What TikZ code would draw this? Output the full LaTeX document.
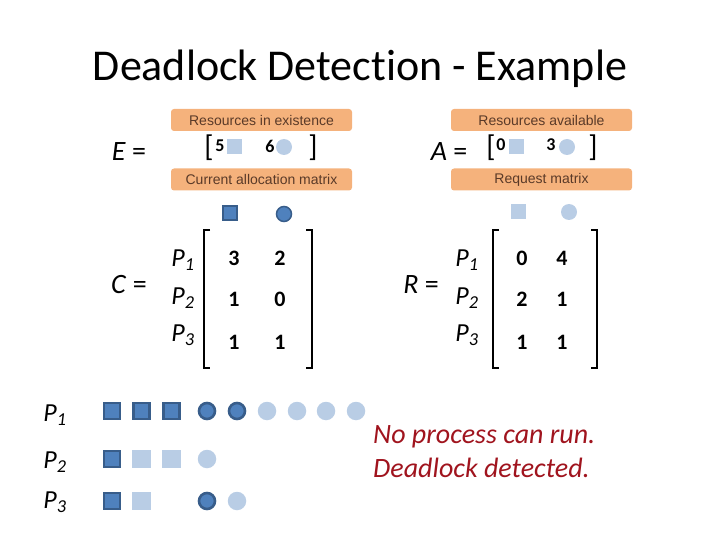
\documentclass[tikz,border=0pt]{standalone}
\usepackage{fontspec}
\setmainfont{Carlito}[Ligatures={NoCommon}]
\newfontfamily\lab{Liberation Sans}
\begin{document}
\begin{tikzpicture}[x=1pt,y=-1pt]
\definecolor{orng}{HTML}{F5B27C}
\definecolor{labtxt}{HTML}{5A3A28}
\definecolor{dkfill}{HTML}{4F81BD}
\definecolor{dkline}{HTML}{385D8A}
\definecolor{ltfill}{HTML}{B9CDE5}
\definecolor{redtxt}{HTML}{A0141E}
\tikzset{
  lbox/.style={fill=orng, rounded corners=3pt, minimum width=181pt, minimum height=22pt, inner sep=0pt, font=\lab\fontsize{14}{16}\selectfont, text=labtxt},
  dsq/.style={draw=dkline, line width=2.6pt, fill=dkfill, minimum size=16pt, inner sep=0pt},
  lsq/.style={fill=ltfill, minimum size=18.5pt, inner sep=0pt},
  dci/.style={circle, draw=dkline, line width=2.6pt, fill=dkfill, minimum size=16pt, inner sep=0pt},
  lci/.style={circle, fill=ltfill, minimum size=18.5pt, inner sep=0pt},
  ssq/.style={fill=ltfill, minimum size=15pt, inner sep=0pt},
  sci/.style={circle, fill=ltfill, minimum size=16pt, inner sep=0pt},
  sdsq/.style={draw=dkline, line width=1.5pt, fill=dkfill, minimum size=14pt, inner sep=0pt},
  sdci/.style={circle, draw=dkline, line width=1.5pt, fill=dkfill, minimum size=15pt, inner sep=0pt},
  eq/.style={font=\fontsize{28}{30}\selectfont, inner sep=0pt},
  plab/.style={font=\fontsize{26}{28}\selectfont, inner sep=0pt},
  ent/.style={font=\bfseries\fontsize{22}{24}\selectfont, inner sep=0pt},
  vent/.style={font=\bfseries\fontsize{18}{20}\selectfont, inner sep=0pt},
  brk/.style={font=\fontsize{30}{32}\selectfont, inner sep=0pt},
  mbr/.style={line width=2pt},
  red/.style={font=\itshape\fontsize{28}{30}\selectfont, text=redtxt, anchor=west, inner sep=0pt}
}
\useasboundingbox (0,0) rectangle (720,540);
\node[font=\fontsize{44}{48}\selectfont] (title) at (360,69) {Deadlock Detection - Example};

% labels
\node[lbox] (lre) at (261.5,120) {Resources in existence};
\node[lbox] (lca) at (261.5,179.5) {Current allocation matrix};
\node[lbox] (lra) at (541.5,120) {Resources available};
\node[lbox] (lrm) at (541.5,179.5) {Request matrix};

% E vector
\node[eq] (Eeq) at (129,152) {\textit{E} =};
\node[brk] (Eb1) at (209,148) {[};
\node[vent] (E5) at (220,146) {5};
\node[ssq] (Esq) at (234,147) {};
\node[vent] (E6) at (270,146) {6};
\node[sci] (Eci) at (284,147) {};
\node[brk] (Eb2) at (313,148) {]};

% A vector
\node[eq] (Aeq) at (449,152) {\textit{A} =};
\node[brk] (Ab1) at (491,148) {[};
\node[vent] (A0) at (501,145) {0};
\node[ssq] (Asq) at (516,147) {};
\node[vent] (A3) at (551,145) {3};
\node[sci] (Aci) at (567,147) {};
\node[brk] (Ab2) at (593,148) {]};

% resource icons under labels
\node[sdsq] (Cs) at (230,213) {};
\node[sdci] (Cc) at (284,214) {};
\node[ssq] (Rs) at (518,212) {};
\node[sci] (Rc) at (569,212) {};

% C matrix
\node[eq] (Ceq) at (129,285) {\textit{C} =};
\node[plab] (CP1) at (183,260) {\textit{P\textsubscript{1}}};
\node[plab] (CP2) at (183,298) {\textit{P\textsubscript{2}}};
\node[plab] (CP3) at (183,335) {\textit{P\textsubscript{3}}};
\coordinate (CL1) at (204,230); \coordinate (CL2) at (204,368);
\coordinate (CR1) at (312,230); \coordinate (CR2) at (312,368);
\draw[mbr] ([xshift=6pt]CL1) -- (CL1) -- (CL2) -- ([xshift=6pt]CL2);
\draw[mbr] ([xshift=-6pt]CR1) -- (CR1) -- (CR2) -- ([xshift=-6pt]CR2);
\node[ent] (c11) at (234,258) {3};
\node[ent] (c12) at (280,258) {2};
\node[ent] (c21) at (234,299) {1};
\node[ent] (c22) at (280,299) {0};
\node[ent] (c31) at (234,342) {1};
\node[ent] (c32) at (280,342) {1};

% R matrix
\node[eq] (Req) at (421,285) {\textit{R} =};
\node[plab] (RP1) at (467,260) {\textit{P\textsubscript{1}}};
\node[plab] (RP2) at (467,298) {\textit{P\textsubscript{2}}};
\node[plab] (RP3) at (467,335) {\textit{P\textsubscript{3}}};
\coordinate (RL1) at (493,230); \coordinate (RL2) at (493,368);
\coordinate (RR1) at (597,230); \coordinate (RR2) at (597,368);
\draw[mbr] ([xshift=6pt]RL1) -- (RL1) -- (RL2) -- ([xshift=6pt]RL2);
\draw[mbr] ([xshift=-6pt]RR1) -- (RR1) -- (RR2) -- ([xshift=-6pt]RR2);
\node[ent] (r11) at (522,258) {0};
\node[ent] (r12) at (562,258) {4};
\node[ent] (r21) at (522,299) {2};
\node[ent] (r22) at (562,299) {1};
\node[ent] (r31) at (522,342) {1};
\node[ent] (r32) at (562,342) {1};

% bottom rows
\node[plab] (P1) at (55,415) {\textit{P\textsubscript{1}}};
\node[plab] (P2) at (55,462) {\textit{P\textsubscript{2}}};
\node[plab] (P3) at (55,502) {\textit{P\textsubscript{3}}};

\node[dsq] (a1) at (112,411) {};
\node[dsq] (a2) at (141.5,411) {};
\node[dsq] (a3) at (171.5,411) {};
\node[dci] (a4) at (207,411) {};
\node[dci] (a5) at (237,411) {};
\node[lci] (a6) at (267,411) {};
\node[lci] (a7) at (297,411) {};
\node[lci] (a8) at (326,411) {};
\node[lci] (a9) at (356,411) {};

\node[dsq] (b1) at (112,459) {};
\node[lsq] (b2) at (141.5,459) {};
\node[lsq] (b3) at (171.5,459) {};
\node[lci] (b4) at (207,459) {};

\node[dsq] (d1) at (112,501) {};
\node[lsq] (d2) at (141.5,501) {};
\node[dci] (d3) at (207,501) {};
\node[lci] (d4) at (237,501) {};

\node[red] (m1) at (373,437) {No process can run.};
\node[red] (m2) at (373,468) {Deadlock detected.};
\end{tikzpicture}
\end{document}
